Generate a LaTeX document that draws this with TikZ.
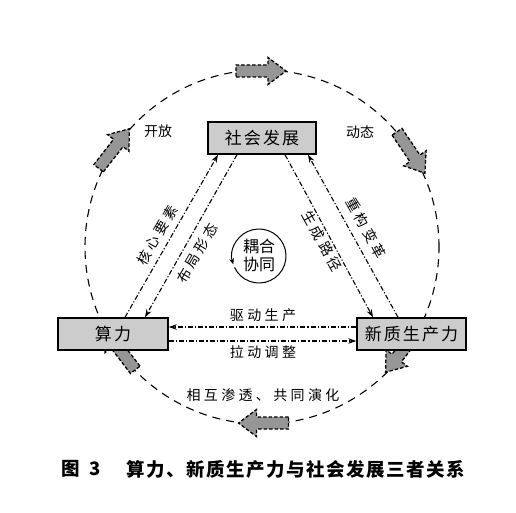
\documentclass[tikz,border=0pt]{standalone}
\usepackage{fontspec}
\setmainfont{Noto Sans CJK SC}
\newfontfamily\boxfont[LetterSpace=12]{Noto Sans CJK SC}
\newfontfamily\lblfont[LetterSpace=24]{Noto Sans CJK SC}
\newfontfamily\plainfont{Noto Sans CJK SC}
\newfontfamily\capfont[LetterSpace=8]{Noto Sans CJK SC}
\usetikzlibrary{arrows.meta,calc}
\definecolor{boxgray}{RGB}{204,204,204}
\definecolor{arrgray}{RGB}{150,150,150}
\newcommand\blockarr[2]{\draw[blockarrow, shift={#1}, rotate=#2] (-25,-6) -- (7,-6) -- (7,-13.5) -- (25,0) -- (7,13.5) -- (7,6) -- (-25,6) -- cycle;}
\tikzset{
  blockarrow/.style={fill=arrgray, draw=black, line width=1.3pt, dash pattern=on 3.5pt off 2pt},
  bigring/.style={draw=black, line width=1.1pt, dash pattern=on 8pt off 6pt},
  boxnode/.style={draw=black, line width=1.4pt, fill=boxgray, inner sep=0pt, minimum height=32pt, font=\boxfont\fontsize{17}{19}\selectfont},
  dd/.style={draw=black, line width=1.1pt, dash pattern=on 5pt off 2pt on 1.2pt off 2pt, -{Stealth[length=8pt,width=5.5pt]}},
  lbl/.style={inner sep=0pt, font=\lblfont\fontsize{14}{16}\selectfont},
  plbl/.style={inner sep=0pt, font=\plainfont\fontsize{14}{16}\selectfont},
  captext/.style={inner sep=0pt, font=\capfont\bfseries\fontsize{18.5}{20}\selectfont},
}
\begin{document}
\begin{tikzpicture}[x=1pt,y=1pt]
\useasboundingbox[fill=white] (0,0) rectangle (516,512);
% outer dashed ring
\draw[bigring] (262,265) circle[radius=177];
% block arrows
\blockarr{(261,441)}{0}
\blockarr{(114,363.5)}{52}
\blockarr{(411,359.5)}{-56}
\blockarr{(401,159.5)}{-128}
\blockarr{(263.5,89)}{180}
\blockarr{(120,162)}{127.5}
% boxes
\node[boxnode, minimum width=108pt] (soc) at (262,374) {社会发展};
\node[boxnode, minimum width=110pt] (sl) at (113,178) {算力};
\node[boxnode, minimum width=109pt] (xz) at (411.5,178) {新质生产力};
% connectors
\draw[dd] ([xshift=12pt]sl.north) -- ([xshift=-44pt]soc.south);
\draw[dd] ([xshift=-25pt]soc.south) -- ([xshift=32pt]sl.north);
\draw[dd] ([xshift=23pt]soc.south) -- ([xshift=-38.5pt]xz.north);
\draw[dd] ([xshift=-13.5pt]xz.north) -- ([xshift=46pt]soc.south);
\draw[dd] ([yshift=7pt]xz.west) -- ([yshift=7pt]sl.east);
\draw[dd] ([yshift=-7pt]sl.east) -- ([yshift=-7pt]xz.west);
% labels
\node[plbl] (kf) at (158,381) {开放};
\node[plbl] (dt) at (360,380) {动态};
\node[lbl, rotate=60] (hx) at (157,277) {核心要素};
\node[lbl, rotate=60] (bj) at (197,259) {布局形态};
\node[lbl, rotate=-61] (cg) at (366,284) {重构变革};
\node[lbl, rotate=-61] (sc) at (322,271) {生成路径};
\node[lbl] (qd) at (263,197) {驱动生产};
\node[lbl] (ld) at (263,160) {拉动调整};
\node[lbl] (xh) at (263,117) {相互渗透、共同演化};
% coupling circle
\coordinate (cc) at (259,256);
\draw[line width=1pt, -{Stealth[length=6pt,width=5pt]}] (cc) ++(-155:27) arc[start angle=-155, end angle=198, radius=27];
\node[plbl, font=\plainfont\fontsize{16}{18}\selectfont] (oh) at (259,266) {耦合};
\node[plbl, font=\plainfont\fontsize{16}{18}\selectfont] (xt) at (259,248) {协同};
% caption
\node[captext] (fig) at (71,43) {图};
\node[captext] (num) at (95,43) {3};
\node[captext] (captxt) at (296,43) {算力、新质生产力与社会发展三者关系};
\end{tikzpicture}
\end{document}
